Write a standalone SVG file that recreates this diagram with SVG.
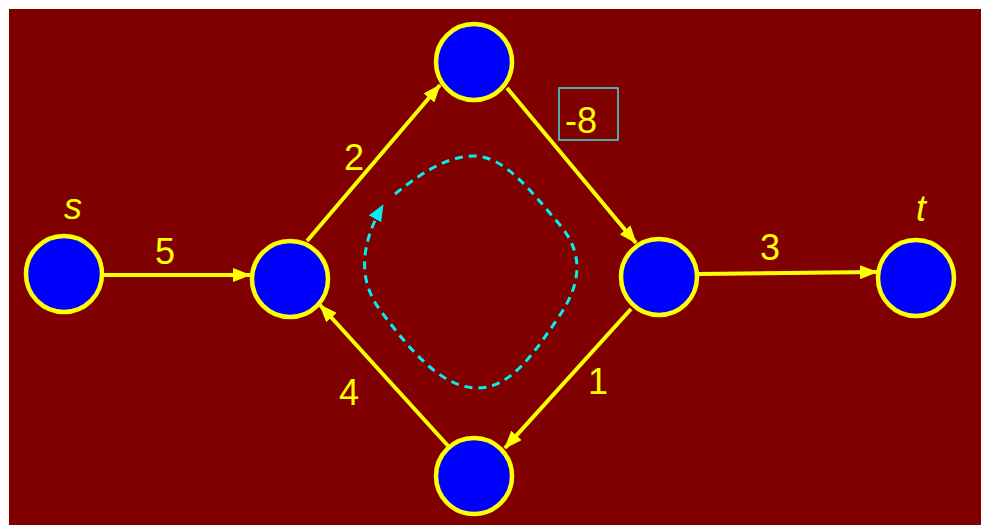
<svg xmlns="http://www.w3.org/2000/svg" width="981" height="525" viewBox="0 0 981 525">
<defs>
<style>
.node{fill:#0000ff;stroke:#ffff00;stroke-width:4.5}
.edge{stroke:#ffff00;stroke-width:4;fill:none}
.lbl{fill:#ffff00;font-family:"Liberation Sans",Arial,sans-serif;font-size:36px;text-anchor:middle}
.it{font-style:italic}
.cyc{stroke:#00f0f0;stroke-width:3;fill:none;stroke-dasharray:8,6}
</style>
<marker id="ah" markerWidth="18" markerHeight="14" refX="17" refY="7" orient="auto" markerUnits="userSpaceOnUse">
<path d="M0,0 L18,7 L0,14 Z" fill="#ffff00"/>
</marker>
<marker id="ch" markerWidth="17" markerHeight="14" refX="16" refY="7" orient="auto" markerUnits="userSpaceOnUse">
<path d="M0,0 L17,7 L0,14 Z" fill="#00f0f0"/>
</marker>
</defs>
<rect x="9" y="9" width="972" height="516" fill="#800000"/>
<g id="connectors">
<line class="edge" x1="101" y1="275" x2="250" y2="275" marker-end="url(#ah)"/>
<line class="edge" x1="307" y1="241" x2="440" y2="85" marker-end="url(#ah)"/>
<line class="edge" x1="507" y1="88" x2="636" y2="243" marker-end="url(#ah)"/>
<line class="edge" x1="699" y1="274" x2="877" y2="272" marker-end="url(#ah)"/>
<line class="edge" x1="631" y1="309" x2="505" y2="448" marker-end="url(#ah)"/>
<line class="edge" x1="450" y1="448" x2="320" y2="305" marker-end="url(#ah)"/>
<path class="cyc" d="M395,194 C430,166 452,156 475,156 C505,157 530,190 560,225 C585,255 580,285 560,315 C535,352 510,390 475,388 C440,386 410,350 380,310 C358,280 360,245 383,205" marker-end="url(#ch)"/>
</g>
<g id="labels">
<text class="lbl" x="165" y="264">5</text>
<text class="lbl" x="354" y="170">2</text>
<rect x="559" y="88" width="59" height="52" fill="none" stroke="#40e0e0" stroke-width="1.5"/>
<text class="lbl" x="581" y="133">-8</text>
<text class="lbl" x="770" y="260">3</text>
<text class="lbl" x="598" y="394">1</text>
<text class="lbl" x="349" y="405">4</text>
</g>
<g id="node-s"><circle class="node" cx="64" cy="274" r="38"/><text class="lbl it" x="73" y="219">s</text></g>
<g id="node-a"><circle class="node" cx="290" cy="279" r="38"/></g>
<g id="node-top"><circle class="node" cx="474" cy="62" r="38"/></g>
<g id="node-right"><circle class="node" cx="659" cy="277" r="38"/></g>
<g id="node-bottom"><circle class="node" cx="474" cy="476" r="38"/></g>
<g id="node-t"><circle class="node" cx="916" cy="278" r="38"/><text class="lbl it" x="921" y="221">t</text></g>
</svg>
